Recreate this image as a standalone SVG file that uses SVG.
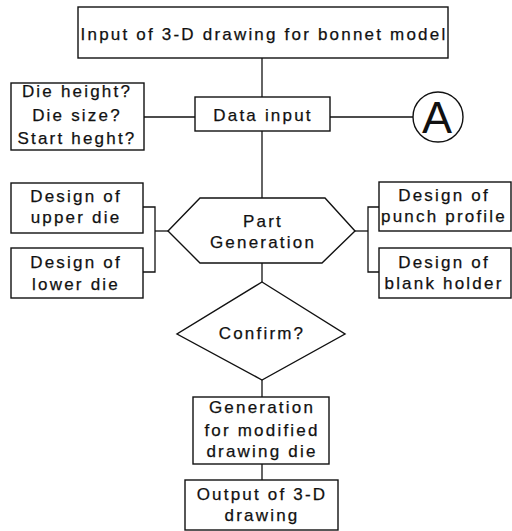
<svg xmlns="http://www.w3.org/2000/svg" width="512" height="531" viewBox="0 0 512 531">
  <style>
    .shape { fill: #ffffff; stroke: #111111; stroke-width: 1.4; }
    .link { fill: none; stroke: #111111; stroke-width: 1.3; }
    text { font-family: "Liberation Sans", Arial, sans-serif; font-size: 17px; letter-spacing: 2.2px; fill: #111111; stroke: #111111; stroke-width: 0.25; text-anchor: middle; }
    .big { font-size: 45px; letter-spacing: 0; stroke-width: 0; }
  </style>
  <rect width="512" height="531" fill="#ffffff"/>

  <g id="connectors">
    <line class="link" x1="262" y1="58" x2="262" y2="97"/>
    <line class="link" x1="144" y1="117" x2="195" y2="117"/>
    <line class="link" x1="330" y1="117" x2="413" y2="117"/>
    <line class="link" x1="262" y1="131" x2="262" y2="198"/>
    <!-- left bracket -->
    <polyline class="link" points="143,207 155,207 155,272 143,272"/>
    <line class="link" x1="155" y1="231" x2="168" y2="231"/>
    <!-- right bracket -->
    <polyline class="link" points="379,207 368,207 368,272 379,272"/>
    <line class="link" x1="355" y1="231" x2="368" y2="231"/>
    <line class="link" x1="262" y1="263" x2="262" y2="282"/>
    <line class="link" x1="262" y1="380" x2="262" y2="397"/>
    <line class="link" x1="262" y1="464" x2="262" y2="480"/>
  </g>

  <g id="input-drawing">
    <rect class="shape" x="78" y="7" width="370" height="51"/>
    <text x="264" y="40">Input of 3-D drawing for bonnet model</text>
  </g>

  <g id="data-input">
    <rect class="shape" x="195" y="97" width="135" height="34"/>
    <text x="263" y="121">Data input</text>
  </g>

  <g id="parameters">
    <rect class="shape" x="11" y="83" width="133" height="67"/>
    <text x="77" y="97">Die height?</text>
    <text x="77" y="121">Die size?</text>
    <text x="77" y="144">Start heght?</text>
  </g>

  <g id="connector-a">
    <circle class="shape" cx="438" cy="117" r="25"/>
    <text class="big" x="437" y="133">A</text>
  </g>

  <g id="part-generation">
    <polygon class="shape" points="200,198 325,198 355,231 322,263 200,263 168,231"/>
    <text x="263" y="227">Part</text>
    <text x="263" y="248">Generation</text>
  </g>

  <g id="upper-die">
    <rect class="shape" x="11" y="183" width="132" height="50"/>
    <text x="76" y="202">Design of</text>
    <text x="76" y="223">upper die</text>
  </g>

  <g id="lower-die">
    <rect class="shape" x="11" y="248" width="132" height="50"/>
    <text x="76" y="268">Design of</text>
    <text x="76" y="290">lower die</text>
  </g>

  <g id="punch-profile">
    <rect class="shape" x="379" y="182" width="132" height="49"/>
    <text x="444" y="201">Design of</text>
    <text x="444" y="222">punch profile</text>
  </g>

  <g id="blank-holder">
    <rect class="shape" x="379" y="248" width="132" height="50"/>
    <text x="444" y="268">Design of</text>
    <text x="444" y="289">blank holder</text>
  </g>

  <g id="confirm">
    <polygon class="shape" points="262,282 345,334 262,380 177,334"/>
    <text x="262" y="339">Confirm?</text>
  </g>

  <g id="modified-die">
    <rect class="shape" x="193" y="397" width="136" height="67"/>
    <text x="262" y="413">Generation</text>
    <text x="262" y="436">for modified</text>
    <text x="262" y="457">drawing die</text>
  </g>

  <g id="output-drawing">
    <rect class="shape" x="185" y="480" width="153" height="50"/>
    <text x="262" y="500">Output of 3-D</text>
    <text x="262" y="521">drawing</text>
  </g>
</svg>
